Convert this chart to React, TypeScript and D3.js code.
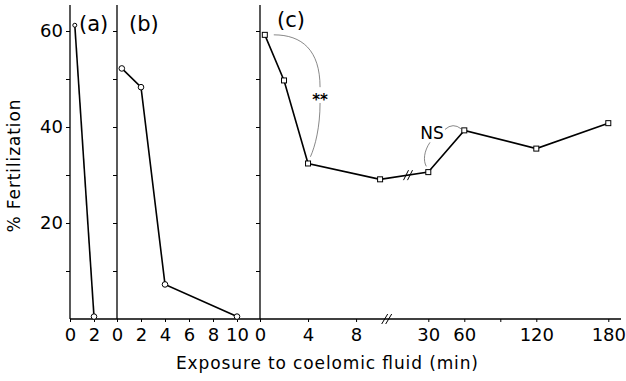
import React, { useEffect, useRef } from 'react';
import * as d3 from 'd3';

// (a) and (b): time in min, % fertilization
const timeA = [0.4, 2];
const fertA = [61.2, 0.5];
const timeB = [0.4, 2, 4, 10];
const fertB = [52.2, 48.3, 7.2, 0.5];
// (c): broken time axis between 10 and 30 min
const timeC = [0.4, 2, 4, 10, 30, 60, 120, 180];
const fertC = [59.2, 49.7, 32.4, 29.1, 30.6, 39.3, 35.5, 40.8];

const yTicks = [10, 20, 30, 40, 50, 60];
const ticksA = [0, 2];
const ticksB = [0, 2, 4, 6, 8, 10];
const ticksC = [0, 4, 8, 30, 60, 90, 120, 180];
const labelsC = [0, 4, 8, 30, 60, 120, 180];

const FONT = 'DejaVu Sans, sans-serif';

function App() {
  const ref = useRef<SVGSVGElement>(null);

  useEffect(() => {
    drawChart();
  });

  function drawChart() {
    const width = 626;
    const height = 381;
    const svg = d3.select(ref.current);
    svg.selectAll('*').remove();
    svg.attr('width', width).attr('height', height).style('background', 'white');

    const y = d3.scaleLinear().domain([0, 60]).range([319, 31]);
    const xA = d3.scaleLinear().domain([0, 2]).range([70, 94]);
    const xB = d3.scaleLinear().domain([0, 10]).range([117, 237]);
    // piecewise scale: 0-10.55 min at 12 px/min, then 30-180 min at 1.2 px/min
    const xC = d3.scaleLinear().domain([0, 10.55, 30, 180]).range([260, 386.7, 428.3, 608.3]);

    const baseY = y(0);

    // bottom axis line across all panels
    svg.append('line')
      .attr('x1', xA(0)).attr('x2', 621)
      .attr('y1', baseY).attr('y2', baseY)
      .attr('stroke', 'black').attr('stroke-width', 1.3);

    // y axes
    [xA(0), xB(0), xC(0)].forEach((x0, i) => {
      svg.append('line')
        .attr('x1', x0).attr('x2', x0)
        .attr('y1', 5).attr('y2', baseY)
        .attr('stroke', 'black').attr('stroke-width', 1.3);
      const ax = d3.axisLeft(y)
        .tickValues(yTicks)
        .tickSize(4)
        .tickPadding(3)
        .tickFormat((d: any) => (i === 0 && d % 20 === 0 ? String(d) : ''));
      const g = svg.append('g').attr('transform', `translate(${x0},0)`).call(ax);
      g.select('.domain').remove();
      g.selectAll('line').attr('stroke', 'black').attr('stroke-width', 1);
      g.selectAll('text').style('font-family', FONT).style('font-size', '18px').attr('fill', 'black');
    });

    // x axes
    const xAxes: [any, number[], number[]][] = [
      [xA, ticksA, ticksA],
      [xB, ticksB, ticksB],
      [xC, ticksC, labelsC],
    ];
    xAxes.forEach(([sc, tv, lab]) => {
      const ax = d3.axisBottom(sc)
        .tickValues(tv)
        .tickSize(3)
        .tickPadding(6)
        .tickFormat((d: any) => (lab.includes(d) ? String(d) : ''));
      const g = svg.append('g').attr('transform', `translate(0,${baseY})`).call(ax);
      g.select('.domain').remove();
      g.selectAll('line').attr('stroke', 'black').attr('stroke-width', 1);
      g.selectAll('text').style('font-family', FONT).style('font-size', '18px').attr('fill', 'black');
    });

    // axis break marks
    const bx = xC(10.55);
    [-2, 2].forEach(dx => {
      svg.append('line')
        .attr('x1', bx + dx - 3).attr('y1', baseY + 5)
        .attr('x2', bx + dx + 3).attr('y2', baseY - 5)
        .attr('stroke', 'black').attr('stroke-width', 1);
    });

    // panel letters
    const letters: [string, number, number][] = [['(a)', 79, 31], ['(b)', 129, 31], ['(c)', 277, 27]];
    letters.forEach(([t, x, yy]) => {
      svg.append('text').text(t)
        .attr('x', x).attr('y', yy)
        .style('font-family', FONT).style('font-size', '21px');
    });

    // series lines + markers
    const line = (sc: any) => d3.line<[number, number]>()
      .x(d => sc(d[0]))
      .y(d => y(d[1]));

    const series: [any, number[], number[], string][] = [
      [xA, timeA, fertA, 'circle'],
      [xB, timeB, fertB, 'circle'],
      [xC, timeC, fertC, 'square'],
    ];
    series.forEach(([sc, tt, ff, shape]) => {
      const pts = tt.map((t, i) => [t, ff[i]] as [number, number]);
      svg.append('path')
        .datum(pts)
        .attr('d', line(sc))
        .attr('fill', 'none')
        .attr('stroke', 'black')
        .attr('stroke-width', 1.6);
      if (shape === 'circle') {
        svg.append('g').selectAll('circle')
          .data(pts)
          .enter()
          .append('circle')
          .attr('cx', d => sc(d[0]))
          .attr('cy', d => y(d[1]))
          .attr('r', (d, i) => (sc === xA && i === 0 ? 2 : 2.8))
          .attr('fill', 'white')
          .attr('stroke', 'black')
          .attr('stroke-width', 1);
      } else {
        svg.append('g').selectAll('rect')
          .data(pts)
          .enter()
          .append('rect')
          .attr('x', d => sc(d[0]) - 2.5)
          .attr('y', d => y(d[1]) - 2.5)
          .attr('width', 5)
          .attr('height', 5)
          .attr('fill', 'white')
          .attr('stroke', 'black')
          .attr('stroke-width', 1);
      }
    });

    // break marks on the (c) line between 10 and 30 min
    const p10 = [xC(10), y(29.1)];
    const p30 = [xC(30), y(30.6)];
    const bmx = 408;
    const bmy = p10[1] + (p30[1] - p10[1]) * (bmx - p10[0]) / (p30[0] - p10[0]);
    [-2, 2].forEach(dx => {
      svg.append('line')
        .attr('x1', bmx + dx - 2.5).attr('y1', bmy + 5)
        .attr('x2', bmx + dx + 2.5).attr('y2', bmy - 5)
        .attr('stroke', 'black').attr('stroke-width', 1);
    });

    // significance annotations
    const ann = svg.append('g')
      .attr('fill', 'none')
      .attr('stroke', '#555')
      .attr('stroke-width', 0.7);
    ann.append('path').attr('d', `M${xC(0.4) + 9},${y(59.2)} C${xC(3.5)},${y(59.2)} ${xC(5)},${y(56)} ${xC(5)},${y(48.3)}`);
    ann.append('path').attr('d', `M${xC(5)},${y(45)} C${xC(5)},${y(40)} ${xC(4.6)},${y(36)} ${xC(4.2)},${y(33.8)}`);
    svg.append('text').text('**')
      .attr('x', xC(5)).attr('y', y(44.5))
      .attr('text-anchor', 'middle')
      .style('font-family', FONT).style('font-size', '15px').style('font-weight', 'bold');

    ann.append('path').attr('d', `M445,${y(39.5)} Q453,${y(41)} ${xC(60) - 3},${y(39.6)}`);
    ann.append('path').attr('d', `M430,${y(36.8)} C424,${y(35)} 423,${y(33)} ${xC(30) - 2},${y(31.8)}`);
    svg.append('text').text('NS')
      .attr('x', 432).attr('y', 139)
      .attr('text-anchor', 'middle')
      .style('font-family', FONT).style('font-size', '17px');

    // axis titles
    svg.append('text').text('% Fertilization')
      .attr('transform', 'translate(20,166) rotate(-90)')
      .attr('text-anchor', 'middle')
      .attr('textLength', 133)
      .attr('lengthAdjust', 'spacing')
      .style('font-family', FONT).style('font-size', '17px');
    svg.append('text').text('Exposure to coelomic fluid (min)')
      .attr('x', 327).attr('y', 369)
      .attr('text-anchor', 'middle')
      .attr('textLength', 302)
      .attr('lengthAdjust', 'spacing')
      .style('font-family', FONT).style('font-size', '17px');
  }

  return <svg ref={ref} style={{ position: 'absolute', left: 0, top: 0 }} />;
}

export default App;
